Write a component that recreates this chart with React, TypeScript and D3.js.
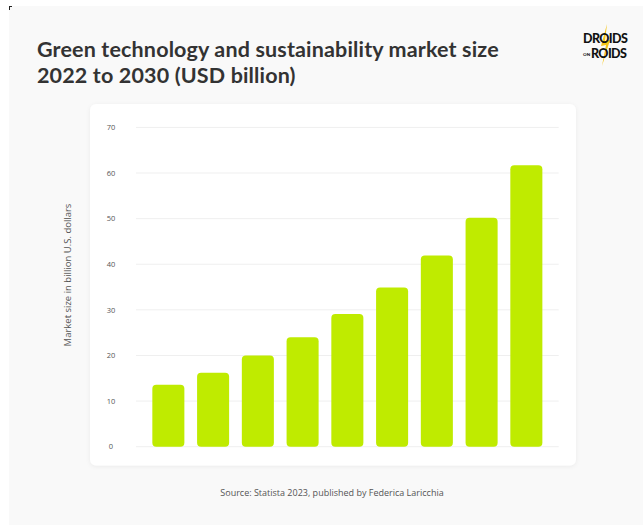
import React from "react";
import * as d3 from "d3";

const years = ["2022", "2023", "2024", "2025", "2026", "2027", "2028", "2029", "2030"];
const values = [13.6, 16.2, 20.0, 24.0, 29.1, 34.9, 41.9, 50.2, 61.7];
const yTicks = [0, 10, 20, 30, 40, 50, 60, 70];
const titleLines = ["Green technology and sustainability market size", "2022 to 2030 (USD billion)"];
const yLabel = "Market size in billion U.S. dollars";
const source = "Source: Statista 2023, published by Federica Laricchia";

export default function App() {
  const W = 643, H = 525;
  const x = d3.scaleBand<string>().domain(years).range([136, 558.7]).paddingInner(0.284).paddingOuter(0.365);
  const y = d3.scaleLinear().domain([0, 70]).range([446.7, 127.4]);
  return (
    <svg width={W} height={H} style={{ position: "absolute", left: 0, top: 0 }}>
      <defs>
        <filter id="sh" x="-10%" y="-10%" width="120%" height="120%">
          <feDropShadow dx="0" dy="1" stdDeviation="2" floodColor="#000" floodOpacity="0.06" />
        </filter>
      </defs>
      <rect x={0} y={0} width={W} height={H} fill="#ffffff" />
      <rect x={9} y={6} width={W - 9} height={H - 6} fill="#f9f9f9" />
      <path d="M9,6 h3 v1 h-2 v3 h-1 z" fill="#222" />
      {titleLines.map((t, i) => (
        <text key={i} x={37} y={57 + i * 25.5} fontFamily="Lato" fontWeight={700} fontSize={21.5} letterSpacing={0.15} fill="#333">
          {t}
        </text>
      ))}
      {/* logo */}
      <g fontFamily="Lato" fontWeight={900} fill="#111">
        <path d="M607,24 L601,46 L606,45 L602,66 L610,40 L605,41 Z" fill="#f5c518" />
        <text x={583} y={43} fontSize={12.5} letterSpacing={-0.6}>DROIDS</text>
        <text x={583} y={56} fontSize={4.5}>ON</text>
        <text x={591} y={58} fontSize={12.5} letterSpacing={-0.6}>ROIDS</text>
      </g>
      <rect x={90} y={104} width={486} height={361.5} rx={6} fill="#ffffff" filter="url(#sh)" />
      {yTicks.map((t) => (
        <g key={t}>
          <line x1={136} x2={558.7} y1={y(t)} y2={y(t)} stroke="#efefef" strokeWidth={1} />
          <text x={111} y={y(t) + 2.7} textAnchor="middle" fontFamily="Open Sans" fontSize={7.5} fill="#555">
            {t}
          </text>
        </g>
      ))}
      {years.map((yr, i) => (
        <rect key={yr} x={x(yr)} y={y(values[i])} width={x.bandwidth()} height={y(0) - y(values[i])} rx={4} fill="#bfeb00" />
      ))}
      <text transform="translate(70.5,275) rotate(-90)" textAnchor="middle" fontFamily="Open Sans" fontSize={9.5} fill="#555">
        {yLabel}
      </text>
      <text x={332} y={496} textAnchor="middle" fontFamily="Open Sans" fontSize={9} fill="#555">
        {source}
      </text>
    </svg>
  );
}
